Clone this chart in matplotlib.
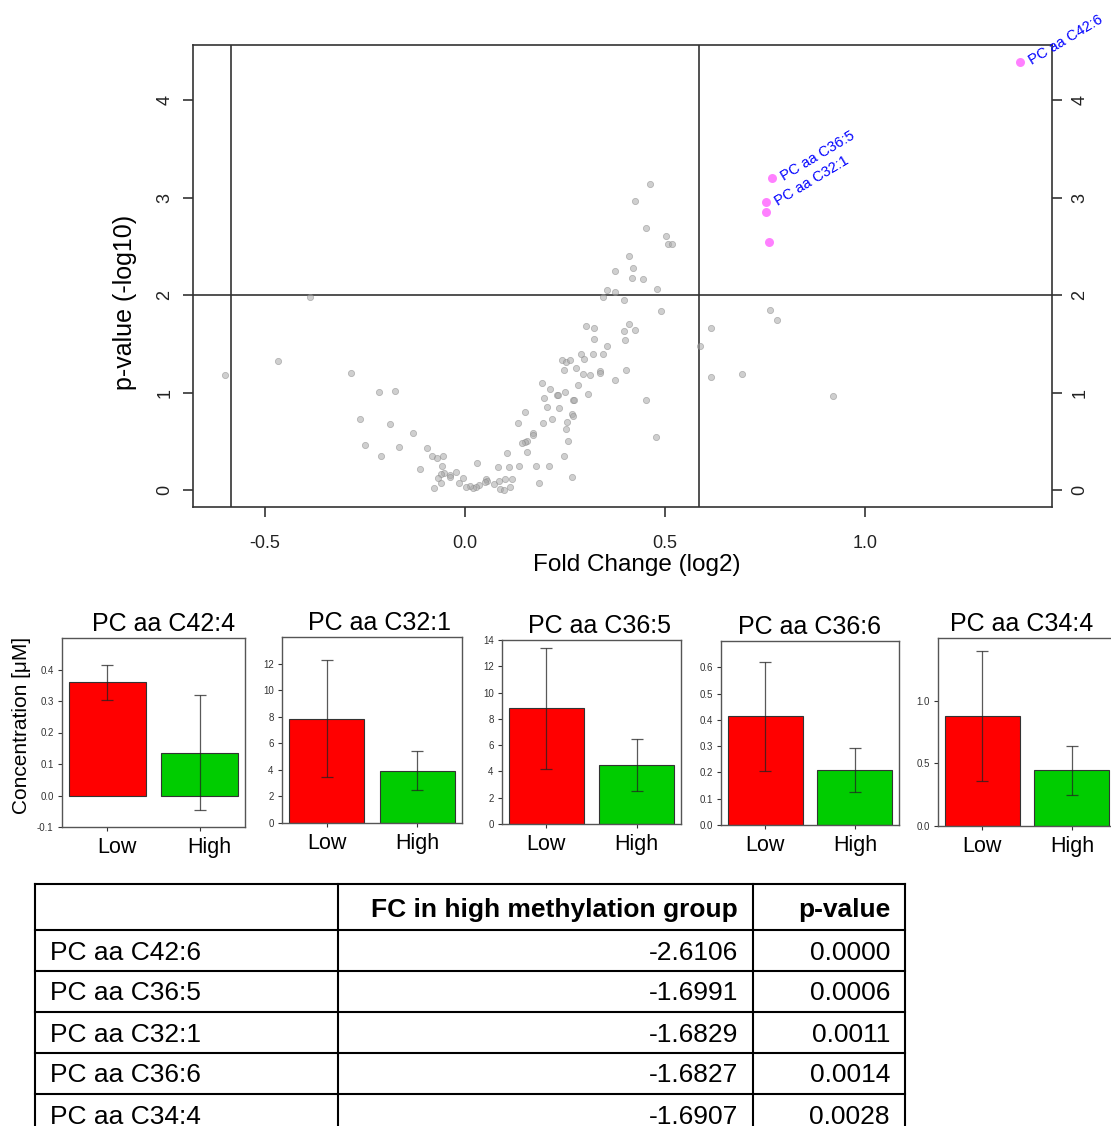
import matplotlib.pyplot as plt
import matplotlib.transforms as mtransforms
import numpy as np

plt.rcParams['font.family'] = ['Liberation Sans', 'DejaVu Sans']

W, H = 1111, 1126

# volcano plot data: log2 fold change and -log10 p-value
fc_grey = [0.463, 0.425, 0.4525, 0.503, 0.507, 0.518, 0.41, 0.376, 0.42, 0.4175,
           0.446, 0.356, 0.376, 0.48, 0.344, 0.398, 0.489, -0.388, 0.303, 0.3225,
           0.41, 0.3975, 0.426, 0.3225, 0.399, 0.354, 0.291, 0.319, 0.345, 0.297,
           0.243, 0.2525, 0.2625, 0.2775, 0.2475, 0.294, 0.312, 0.337, 0.337, 0.403,
           0.374, 0.282, 0.192, 0.2125, 0.249, 0.23, 0.2325, 0.3075, 0.197, 0.271,
           0.273, 0.453, 0.206, 0.236, 0.149, 0.267, 0.271, 0.217, 0.256, 0.132,
           0.195, 0.2525, 0.171, 0.169, 0.154, 0.149, 0.1425, 0.257, 0.4775, 0.154,
           0.104, 0.247, 0.031, 0.082, 0.109, 0.135, 0.177, 0.21, 0.2675, 0.184,
           0.0525, 0.054, 0.051, 0.072, 0.086, 0.099, 0.1175, 0.0875, 0.097, 0.113,
           0.034, 0.027, 0.02, 0.0125, 0.0025, -0.004, -0.016, -0.022, -0.038, -0.038,
           -0.052, -0.06, -0.068, -0.06, -0.078, -0.0575, -0.0825, -0.069, -0.054, -0.096,
           -0.1125, -0.13, -0.165, -0.188, -0.21, -0.176, -0.216, -0.2625, -0.25, -0.286,
           -0.467, -0.599, 0.762, 0.781, 0.614, 0.587, 0.615, 0.692, 0.92]
p_grey = [3.14, 2.96, 2.69, 2.61, 2.52, 2.52, 2.40, 2.25, 2.28, 2.17,
          2.16, 2.05, 2.03, 2.06, 1.98, 1.95, 1.84, 1.98, 1.68, 1.66,
          1.70, 1.63, 1.64, 1.55, 1.54, 1.48, 1.40, 1.40, 1.40, 1.34,
          1.33, 1.31, 1.33, 1.25, 1.23, 1.19, 1.18, 1.22, 1.20, 1.23,
          1.13, 1.08, 1.10, 1.04, 1.005, 0.97, 0.97, 0.98, 0.94, 0.92,
          0.92, 0.92, 0.85, 0.84, 0.80, 0.78, 0.76, 0.73, 0.70, 0.69,
          0.69, 0.63, 0.59, 0.56, 0.50, 0.49, 0.48, 0.50, 0.54, 0.39,
          0.38, 0.35, 0.28, 0.24, 0.24, 0.25, 0.25, 0.25, 0.13, 0.075,
          0.11, 0.09, 0.08, 0.06, 0.09, 0.11, 0.11, 0.01, 0.00, 0.03,
          0.05, 0.03, 0.02, 0.04, 0.03, 0.12, 0.075, 0.18, 0.15, 0.13,
          0.17, 0.16, 0.12, 0.07, 0.02, 0.25, 0.35, 0.33, 0.35, 0.43,
          0.215, 0.585, 0.44, 0.68, 0.345, 1.02, 1.01, 0.725, 0.465, 1.20,
          1.32, 1.18, 1.85, 1.74, 1.66, 1.48, 1.16, 1.19, 0.96]

fc_sig = [1.3875, 0.7675, 0.753, 0.753, 0.76]
p_sig = [4.39, 3.20, 2.95, 2.855, 2.54]
sig_labels = ["PC aa C42:6", "PC aa C36:5", "PC aa C32:1", "", ""]

fc_cut = np.log2(1.5)
p_cut = 2

# bar charts
bar_titles = ["PC aa C42:4", "PC aa C32:1", "PC aa C36:5", "PC aa C36:6", "PC aa C34:4"]
groups = ["Low", "High"]
bar_means = [[0.359, 0.136], [7.85, 3.92], [8.8, 4.47], [0.4135, 0.21], [0.88, 0.444]]
bar_errs = [[0.055, 0.182], [4.41, 1.47], [4.58, 1.97], [0.208, 0.084], [0.52, 0.196]]
bar_ylims = [(-0.1, 0.5), (0, 14), (0, 14), (0, 0.7), (0, 1.5)]
bar_yticks = [[-0.1, 0.0, 0.1, 0.2, 0.3, 0.4], [0, 2, 4, 6, 8, 10, 12],
              [0, 2, 4, 6, 8, 10, 12, 14], [0.0, 0.1, 0.2, 0.3, 0.4, 0.5, 0.6],
              [0.0, 0.5, 1.0]]
bar_colors = ["#ff0000", "#00cc00"]

# table
table_header = ["", "FC in high methylation group", "p-value"]
table_names = ["PC aa C42:6", "PC aa C36:5", "PC aa C32:1", "PC aa C36:6", "PC aa C34:4"]
table_fc = [-2.6106, -1.6991, -1.6829, -1.6827, -1.6907]
table_p = [0.0000, 0.0006, 0.0011, 0.0014, 0.0028]


def box(l, r, t, b):
    return [l / W, 1 - b / H, (r - l) / W, (b - t) / H]


fig = plt.figure(figsize=(W / 100, H / 100), dpi=100)

# ---- volcano plot ----
ax = fig.add_axes(box(193, 1052, 45, 507))
ax.scatter(fc_grey, p_grey, s=20, color="#a8a8a8", alpha=0.55, linewidths=0.6,
           edgecolors="#8a8a8a", zorder=2)
ax.scatter(fc_sig, p_sig, s=42, color="#ff80ff", linewidths=0, zorder=3)
for x, y, lab in zip(fc_sig, p_sig, sig_labels):
    if lab:
        ax.annotate(lab, (x, y), xytext=(7, 0), textcoords="offset points",
                    rotation=31, rotation_mode="anchor", ha="left", va="center",
                    color="blue", fontsize=10.5, annotation_clip=False)
ax.axvline(-fc_cut, color="#333333", lw=1.2, zorder=1)
ax.axvline(fc_cut, color="#333333", lw=1.2, zorder=1)
ax.axhline(p_cut, color="#333333", lw=1.2, zorder=1)
ax.set_xlim(-0.68, 1.4675)
ax.set_ylim(-0.174, 4.564)
ax.set_xticks([-0.5, 0.0, 0.5, 1.0])
ax.set_xticklabels(["-0.5", "0.0", "0.5", "1.0"])
ax.set_yticks([0, 1, 2, 3, 4])
ax.tick_params(axis="x", length=7, width=1.1, pad=13, labelsize=13, colors="#222222")
ax.tick_params(axis="y", length=7, width=1.1, pad=7, labelsize=13, colors="#222222",
               right=True, labelright=True, labelrotation=90)
for lbl in ax.get_yticklabels():
    lbl.set_va("center")
for sp in ax.spines.values():
    sp.set_linewidth(1.2)
    sp.set_color("#333333")
fig.text(125 / W, 1 - 302 / H, "p-value (-log10)", rotation=90, ha="center",
         va="center", fontsize=18)
fig.text(637 / W, 1 - 565 / H, "Fold Change (log2)", ha="center", va="center",
         fontsize=17.5)

# ---- bar charts ----
panel_boxes = [(62, 245, 638, 827), (282, 462, 637, 823), (502, 681, 640, 824),
               (721, 899, 641, 825), (938, 1116, 638, 826)]
title_shift = [10, 8, 8, 0, -5]   # px, titles are not exactly centred in the source
xpos = 0.7 + 1.2 * np.arange(len(groups))
for i, pb in enumerate(panel_boxes):
    bx = fig.add_axes(box(*pb))
    bx.bar(xpos, bar_means[i], width=1.0, color=bar_colors, edgecolor="#333333",
           linewidth=0.8, zorder=2)
    bx.errorbar(xpos, bar_means[i], yerr=bar_errs[i], fmt="none", ecolor="#222222",
                elinewidth=0.9, capsize=4.5, capthick=0.9, alpha=0.75, zorder=3)
    bx.set_xlim(0.112, 2.488)
    bx.set_ylim(*bar_ylims[i])
    bx.set_yticks(bar_yticks[i])
    if max(bar_yticks[i]) >= 2:
        bx.set_yticklabels([f"{v:g}" for v in bar_yticks[i]])
    else:
        bx.set_yticklabels([f"{v:.1f}" for v in bar_yticks[i]])
    bx.set_xticks(xpos)
    bx.set_xticklabels(groups)
    bx.tick_params(axis="y", length=3, width=0.8, pad=3, labelsize=7, colors="#333333")
    bx.tick_params(axis="x", length=3, width=0.8, pad=4, labelsize=15.5, colors="#333333")
    for lbl in bx.get_xticklabels():
        lbl.set_color("black")
        if i == 0:
            # first panel's labels sit a bit right of the bars
            lbl.set_transform(lbl.get_transform() +
                              mtransforms.ScaledTranslation(10 / 100, 0, fig.dpi_scale_trans))
    for sp in bx.spines.values():
        sp.set_linewidth(1.0)
        sp.set_color("#555555")
    t = bx.set_title(bar_titles[i], fontsize=18, pad=5)
    t.set_transform(t.get_transform() +
                    mtransforms.ScaledTranslation(title_shift[i] / 100, 0, fig.dpi_scale_trans))

fig.text(22 / W, 1 - 725 / H, "Concentration [\u03bcM]", rotation=90, ha="center",
         va="center", fontsize=15)

# ---- table ----
tx = fig.add_axes([0, 0, 1, 1])
tx.set_xlim(0, W)
tx.set_ylim(H, 0)
tx.axis("off")
col_edges = [35, 338, 753, 905]
row_edges = [884, 930, 971, 1012, 1053, 1094, 1135]
for xe in col_edges:
    tx.plot([xe, xe], [row_edges[0], row_edges[-1]], color="black", lw=1.5,
            solid_capstyle="projecting", clip_on=False)
for ye in row_edges:
    tx.plot([col_edges[0], col_edges[-1]], [ye, ye], color="black", lw=1.5,
            solid_capstyle="projecting", clip_on=False)
hy = (row_edges[0] + row_edges[1]) / 2 + 3
tx.text(col_edges[2] - 15, hy, table_header[1], ha="right", va="center",
        fontsize=19, fontweight="bold")
tx.text(col_edges[3] - 15, hy, table_header[2], ha="right", va="center",
        fontsize=19, fontweight="bold")
for k, (nm, fcv, pv) in enumerate(zip(table_names, table_fc, table_p)):
    cy = (row_edges[k + 1] + row_edges[k + 2]) / 2 + 2
    tx.text(col_edges[0] + 15, cy, nm, ha="left", va="center", fontsize=19)
    tx.text(col_edges[2] - 15, cy, f"{fcv:.4f}", ha="right", va="center", fontsize=19)
    tx.text(col_edges[3] - 15, cy, f"{pv:.4f}", ha="right", va="center", fontsize=19)

fig.savefig("out.png", dpi=100)
